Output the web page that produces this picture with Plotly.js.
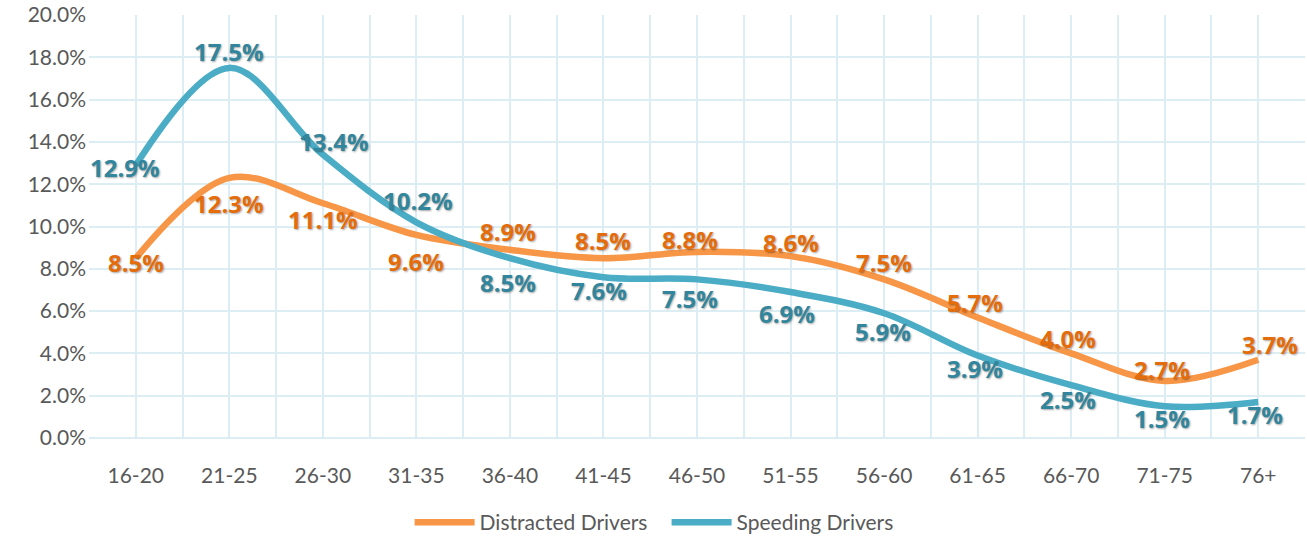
<!DOCTYPE html>
<html><head><meta charset="utf-8">
<script src="https://cdn.plot.ly/plotly-3.0.1.min.js"></script>
<style>html,body{margin:0;padding:0;background:#fff}#chart{width:1307px;height:537px}</style>
</head><body><div id="chart"></div>
<script>
const categories = ["16-20","21-25","26-30","31-35","36-40","41-45","46-50","51-55","56-60","61-65","66-70","71-75","76+"];
const distracted = [8.5,12.3,11.1,9.6,8.9,8.5,8.8,8.6,7.5,5.7,4.0,2.7,3.7];
const speeding = [12.9,17.5,13.4,10.2,8.5,7.6,7.5,6.9,5.9,3.9,2.5,1.5,1.7];
// label pixel offsets [dx, dy] (positive dy = up)
const distractedShift = [[0,-4],[0,-26],[0,-16],[0,-27],[-2,18],[0,18],[-7,12],[0,14],[0,17],[-3,15],[-3,15],[-3,11],[12,15]];
const speedingShift = [[-11,-2],[0,16],[11,13],[2,22],[-2,-24],[-4,-13],[-7,-19],[-4,-21],[-1,-18],[-3,-13],[-3,-14],[-3,-12],[-3,-12]];

const labelFont = (c)=>({family:"Open Sans, Lato, sans-serif", size:24, color:c, weight:"bold", shadow:"1px 1px 2px rgba(0,0,0,0.35)"});

const traces = [
 {x:categories, y:distracted, name:"Distracted Drivers", type:"scatter", mode:"lines",
  line:{color:"#F79646", width:6.5, shape:"spline", smoothing:1}},
 {x:categories, y:speeding, name:"Speeding Drivers", type:"scatter", mode:"lines",
  line:{color:"#4BACC6", width:6.5, shape:"spline", smoothing:1}},
 {x:categories, y:distracted, xaxis:"x2", type:"scatter", mode:"none", showlegend:false, hoverinfo:"skip"}
];

const annotations = [];
function addLabels(vals, shifts, color){
  vals.forEach((v,i)=>annotations.push({x:categories[i], y:v, xref:"x", yref:"y", text:v.toFixed(1)+"%",
    showarrow:false, xshift:shifts[i][0], yshift:shifts[i][1], font:labelFont(color), xanchor:"center", yanchor:"middle"}));
}
addLabels(distracted, distractedShift, "#E46C0A");
addLabels(speeding, speedingShift, "#31859C");

const grid = "#DCEEF4";
const layout = {
 width:1307, height:537,
 margin:{l:89, r:2, t:15, b:99, autoexpand:false},
 paper_bgcolor:"#fff", plot_bgcolor:"#fff",
 font:{family:"Lato, Open Sans, sans-serif", color:"#595959", size:21},
 showlegend:true,
 legend:{orientation:"h", x:0.475, xanchor:"center", y:-0.2, yanchor:"middle", font:{size:21, color:"#595959"},
   itemwidth:60, entrywidth:182, entrywidthmode:"pixels", traceorder:"normal"},
 annotations:annotations,
 xaxis:{type:"category", range:[-0.5,12.5], showgrid:true, gridcolor:grid, gridwidth:2, zeroline:false,
   showline:false, ticks:"", tickfont:{size:21, color:"#595959"}, ticklabelstandoff:23, fixedrange:true},
 xaxis2:{overlaying:"x", type:"category", range:[-0.5,12.5], tickson:"boundaries", showgrid:true, gridcolor:grid, gridwidth:2,
   showticklabels:false, zeroline:false, ticks:""},
 yaxis:{range:[0,20], dtick:2, tickformat:".1f", ticksuffix:"%", showgrid:true, gridcolor:grid, gridwidth:2,
   zeroline:true, zerolinecolor:grid, zerolinewidth:2, showline:false, ticks:"", tickfont:{size:21, color:"#595959"}, ticklabelstandoff:2}
};
Plotly.newPlot("chart", traces, layout, {displayModeBar:false, staticPlot:true});
</script></body></html>
